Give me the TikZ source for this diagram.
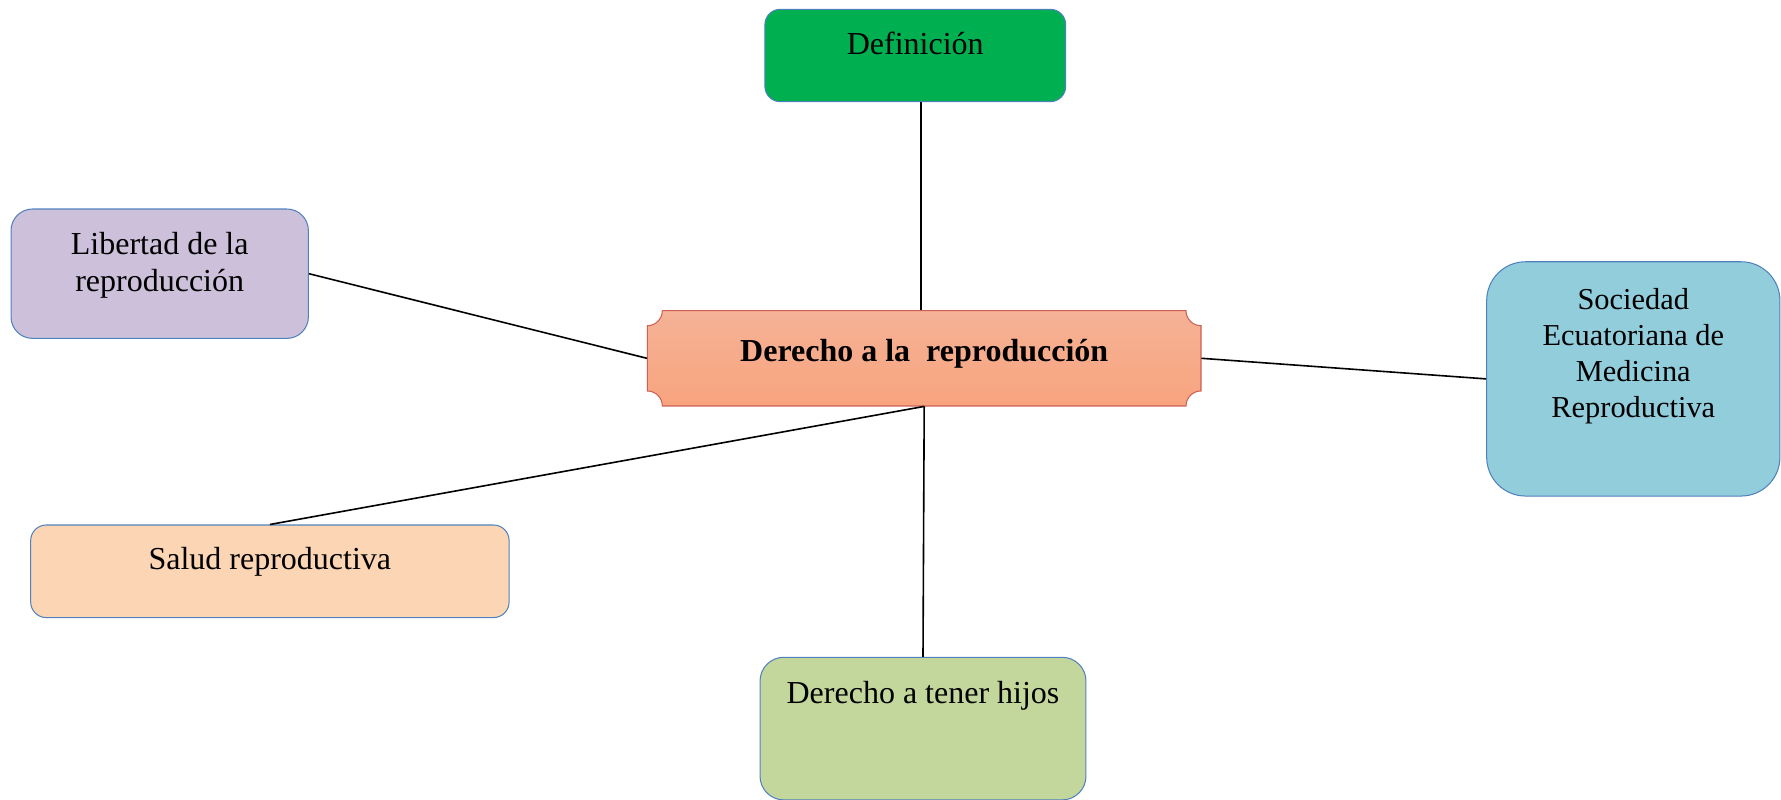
\documentclass[tikz,border=0pt]{standalone}
\usepackage{fontspec}
\setmainfont{Liberation Serif}
\usepackage{tikz}
\newcommand{\boxtxt}[4]{\parbox[c][#2][t]{#1}{\centering\rule{0pt}{#3}#4}}

\begin{document}
\begin{tikzpicture}[x=0.4375pt,y=0.4375pt,yscale=-1,xscale=1,
        box/.style={draw={rgb, 255:red, 79; green, 129; blue, 189 },line width=0.45pt,inner sep=0pt,font=\fontsize{14}{16.5}\selectfont},
        link/.style={draw=black,line width=0.7pt}]
        \useasboundingbox (0,0) rectangle (1781,800);

        \shade [top color={rgb, 255:red, 245; green, 178; blue, 150 },bottom color={rgb, 255:red, 248; green, 164; blue, 126 },draw={rgb, 255:red, 205; green, 95; blue, 85 },line width=0.45pt] (662.3,310.7) -- (1186,310.7) arc (180:90:15) -- (1201,391) arc (270:180:15) -- (662.3,406) arc (0:-90:15) -- (647.3,325.7) arc (90:0:15) -- cycle ;
        \node (cen) [inner sep=0pt,minimum width=242.2pt,minimum height=41.7pt,font=\fontsize{14}{16}\selectfont\bfseries,text height=7pt,text depth=4pt] at (924.2,358.3) {Derecho a la~ reproducción};

        \node (def) [box,fill={rgb, 255:red, 0; green, 176; blue, 80 },rounded corners=6.7pt] at (915.3,55.5) {\boxtxt{131.6pt}{40.4pt}{19.6pt}{Definición}};
        \node (lib) [box,fill={rgb, 255:red, 204; green, 192; blue, 218 },rounded corners=9.4pt] at (159.7,273.7) {\boxtxt{130.1pt}{56.6pt}{19.7pt}{Libertad de la\\ reproducción}};
        \node (soc) [box,fill={rgb, 255:red, 146; green, 205; blue, 220 },rounded corners=17pt,font=\fontsize{13.3}{15.8}\selectfont] at (1633.3,378.9) {\boxtxt{128.3pt}{102.5pt}{20.8pt}{Sociedad\\ Ecuatoriana de\\ Medicina\\ Reproductiva}};
        \node (sal) [box,fill={rgb, 255:red, 252; green, 213; blue, 181 },rounded corners=6.8pt] at (269.9,571.3) {\boxtxt{209.3pt}{40.5pt}{19.4pt}{Salud reproductiva}};
        \node (hij) [box,fill={rgb, 255:red, 195; green, 214; blue, 155 },rounded corners=10.4pt] at (923,728.6) {\boxtxt{142.6pt}{62.4pt}{20.1pt}{Derecho a tener hijos}};

        \draw [link] ([xshift=2.4pt]def.south) -- ([xshift=2.4pt]def.south |- cen.north) ;
        \draw [link] (lib.east) -- (cen.west) ;
        \draw [link] (cen.east) -- (soc.west) ;
        \draw [link] (cen.south) -- (sal.north) ;
        \draw [link] (cen.south) -- (hij.north) ;

\end{tikzpicture}
\end{document}
